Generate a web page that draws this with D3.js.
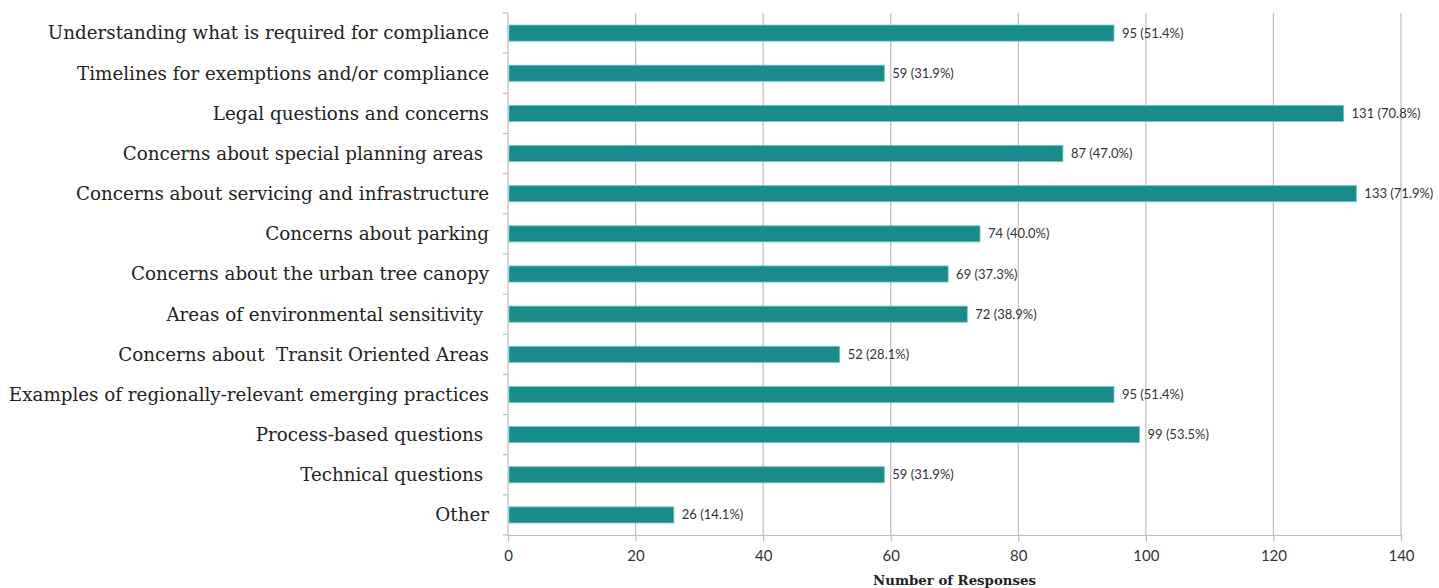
<!DOCTYPE html>
<html>
<head>
<meta charset="utf-8">
<script src="https://cdn.jsdelivr.net/npm/d3@7"></script>
<style>
  html, body { margin: 0; padding: 0; background: #fff; }
  svg text { white-space: pre; }
</style>
</head>
<body>
<svg id="chart" width="1439" height="588"></svg>
<script>
// Survey topics (top to bottom), response counts and share of respondents
const categories = [
  "Understanding what is required for compliance",
  "Timelines for exemptions and/or compliance",
  "Legal questions and concerns",
  "Concerns about special planning areas ",
  "Concerns about servicing and infrastructure",
  "Concerns about parking",
  "Concerns about the urban tree canopy",
  "Areas of environmental sensitivity ",
  "Concerns about  Transit Oriented Areas",
  "Examples of regionally-relevant emerging practices",
  "Process-based questions ",
  "Technical questions ",
  "Other"
];
const responses = [95, 59, 131, 87, 133, 74, 69, 72, 52, 95, 99, 59, 26];
const percents = ["51.4", "31.9", "70.8", "47.0", "71.9", "40.0", "37.3", "38.9", "28.1", "51.4", "53.5", "31.9", "14.1"];
const xTicks = [0, 20, 40, 60, 80, 100, 120, 140];
const xTitle = "Number of Responses";

const margin = { left: 508, right: 38, top: 13, bottom: 53 };
const W = 1439, H = 588;
const svg = d3.select("#chart");

const x = d3.scaleLinear().domain([0, 140]).range([margin.left, W - margin.right]);
const y = d3.scaleBand().domain(categories).range([margin.top, H - margin.bottom]).paddingInner(0.6).paddingOuter(0.3);

const gridColor = "#bdbdbd";

// vertical gridlines
svg.append("g").selectAll("line").data(xTicks.slice(1)).join("line")
  .attr("x1", d => x(d)).attr("x2", d => x(d))
  .attr("y1", margin.top).attr("y2", H - margin.bottom)
  .attr("stroke", gridColor).attr("stroke-width", 1.2);

// x axis
const xAxis = svg.append("g")
  .attr("transform", `translate(0,${H - margin.bottom})`)
  .call(d3.axisBottom(x).tickValues(xTicks).tickSize(6).tickPadding(9).tickSizeOuter(0));
xAxis.select(".domain").attr("stroke", gridColor).attr("stroke-width", 1.2);
xAxis.selectAll(".tick line").attr("stroke", gridColor).attr("stroke-width", 1.2);
xAxis.selectAll(".tick text")
  .attr("font-family", "Lato, 'Open Sans', sans-serif")
  .attr("font-size", 15).attr("fill", "#333");

// y axis: line with ticks at the band boundaries
const yAxisG = svg.append("g");
yAxisG.append("line")
  .attr("x1", x(0)).attr("x2", x(0))
  .attr("y1", margin.top).attr("y2", H - margin.bottom)
  .attr("stroke", gridColor).attr("stroke-width", 1.2);
const step = y.step();
const bounds = d3.range(categories.length + 1).map(i => margin.top + i * step);
yAxisG.selectAll("line.tk").data(bounds).join("line").attr("class", "tk")
  .attr("x1", x(0) - 5).attr("x2", x(0))
  .attr("y1", d => d).attr("y2", d => d)
  .attr("stroke", gridColor).attr("stroke-width", 1.2);

// category labels
svg.append("g").selectAll("text").data(categories).join("text")
  .attr("x", x(0) - 19)
  .attr("y", d => y(d) + y.bandwidth() / 2)
  .attr("dy", "0.35em")
  .attr("text-anchor", "end")
  .attr("font-family", "'DejaVu Serif', serif")
  .attr("font-size", 18.3)
  .attr("fill", "#222")
  .text(d => d);

// bars
svg.append("g").selectAll("rect").data(responses).join("rect")
  .attr("x", x(0) + 1)
  .attr("y", (d, i) => y(categories[i]))
  .attr("width", d => x(d) - x(0) - 1)
  .attr("height", y.bandwidth())
  .attr("fill", "#198b8b")
  .attr("stroke", "#6cc5c5")
  .attr("stroke-width", 0.8);

// value labels
svg.append("g").selectAll("text").data(responses).join("text")
  .attr("x", d => x(d) + 8)
  .attr("y", (d, i) => y(categories[i]) + y.bandwidth() / 2)
  .attr("dy", "0.35em")
  .attr("font-family", "Lato, 'Open Sans', sans-serif")
  .attr("font-size", 13)
  .attr("fill", "#333")
  .text((d, i) => `${d} (${percents[i]}%)`);

// axis title
svg.append("text")
  .attr("x", (x(0) + x(140)) / 2)
  .attr("y", H - 3)
  .attr("text-anchor", "middle")
  .attr("font-family", "'DejaVu Serif', serif")
  .attr("font-weight", "bold")
  .attr("font-size", 13.3)
  .attr("fill", "#222")
  .text(xTitle);
</script>
</body>
</html>
